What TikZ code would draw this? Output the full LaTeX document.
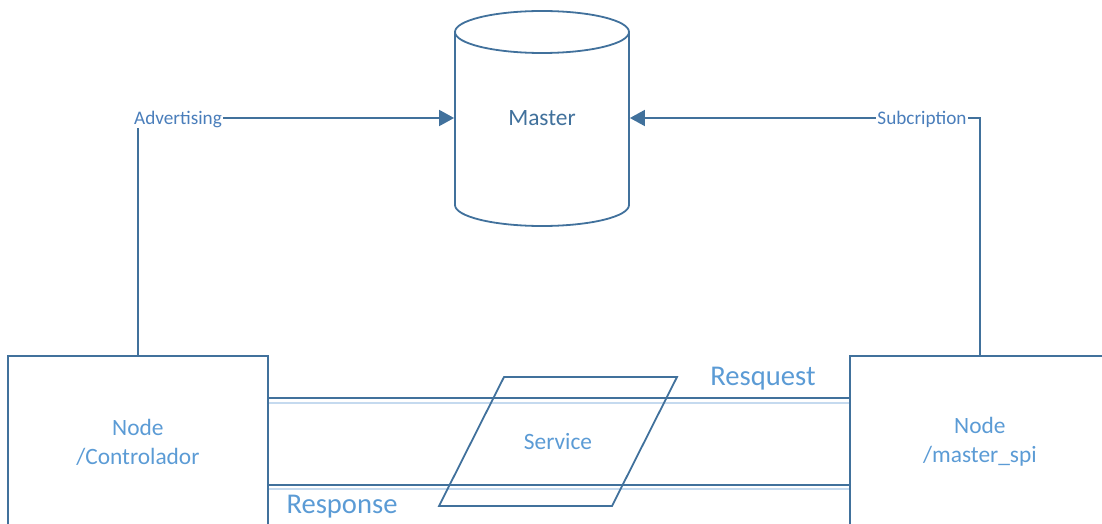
\documentclass[tikz,border=0pt]{standalone}
\usepackage{fontspec}
\setmainfont{Carlito}
\usetikzlibrary{arrows.meta,calc}
\definecolor{edge}{HTML}{41719C}
\definecolor{label}{HTML}{5B9BD5}
\definecolor{shade}{HTML}{C5DAEF}
\definecolor{tag}{HTML}{4A7EBB}
\begin{document}
\begin{tikzpicture}[x=1pt,y=-1pt,line width=1.8pt,
  nodebox/.style={draw=edge,minimum width=260pt,minimum height=172pt,inner sep=0pt,
    align=center,text=label,font=\fontsize{23.4}{29}\selectfont},
  link/.style={draw=edge,-{Triangle[length=15pt,width=16pt]}},
  tagtext/.style={fill=white,inner sep=1pt,text=tag,font=\fontsize{19.2}{22}\selectfont},
  wire/.style={draw=edge},
  glow/.style={draw=shade},
  flowtext/.style={text=label,font=\fontsize{28.6}{32}\selectfont},
  rx/.style={x radius=87pt,y radius=21pt}]
\clip (0,0) rectangle (1102,524);

% the two ROS nodes
\node[nodebox,anchor=north west] (ctrl) at (7,355) {Node\\/Controlador};
\node[nodebox,anchor=north west] (spi) at (849,355) {Node\\/master\_spi};

% master cylinder
\draw[edge,fill=white] (455,32) -- (455,205) arc[start angle=180,end angle=360,rx] -- (629,32);
\draw[edge] (542,32) ellipse[rx];
\node[minimum width=174pt,minimum height=150pt,inner sep=0pt,text=edge,
  font=\fontsize{23.4}{29}\selectfont] (master) at (542,118) {Master};

% registration connectors
\draw[link] (ctrl.north) -- (ctrl.north |- master.west) -- (master.west);
\node[tagtext] (adv) at (178,119) {Advertising};
\draw[link] (spi.north) -- (spi.north |- master.east) -- (master.east);
\node[tagtext] (sub) at (922,119) {Subcription};

% request / response channel
\coordinate (rq) at (0,398);
\coordinate (rqs) at (0,403);
\coordinate (rs) at (0,485);
\coordinate (rss) at (0,489);
\draw[wire] (ctrl.east |- rq) -- (spi.west |- rq);
\draw[glow] (ctrl.east |- rqs) -- (spi.west |- rqs);
\draw[wire] (ctrl.east |- rs) -- (spi.west |- rs);
\draw[glow] (ctrl.east |- rss) -- (spi.west |- rss);

% service
\draw[edge] (504,377) -- (677,377) -- (612,506) -- (439,506) -- cycle;
\node[text=label,font=\fontsize{23.4}{29}\selectfont] (service) at (558,442) {Service};

\node[flowtext] (req) at (763,379) {Resquest};
\node[flowtext] (resp) at (342,507) {Response};
\end{tikzpicture}
\end{document}
